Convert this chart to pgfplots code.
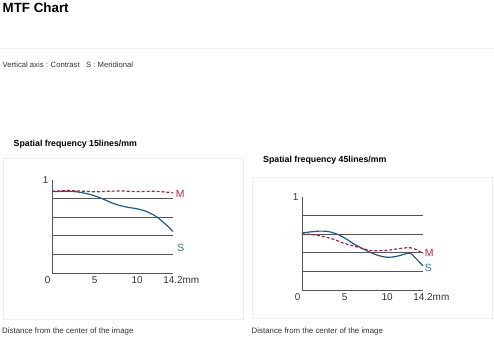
\documentclass[border=0pt]{standalone}
\usepackage{pgfplots}
\pgfplotsset{compat=1.18}
\usepackage{fontspec}
\setmainfont{Liberation Sans}
\definecolor{mred}{HTML}{B0203C}
\definecolor{sblue}{HTML}{1D5C8C}
\definecolor{mlab}{HTML}{C0233F}
\definecolor{slab}{HTML}{2A7FB5}
\definecolor{txt}{HTML}{333333}
\definecolor{grd}{HTML}{555555}
\definecolor{panel}{HTML}{EDEDED}
\pgfplotsset{mtf/.style={
  scale only axis, width=121bp, height=93bp,
  xmin=0, xmax=14.2, ymin=0, ymax=1,
  axis x line=bottom, axis y line=left,
  axis line style={-, draw=grd, line width=0.8pt},
  xtick={0,5,10,14.2}, xticklabels={\llap{0\,},5,10,14.2\rlap{mm}},
  ytick={1}, yticklabels={1},
  major tick length=0pt,
  tick label style={font=\fontsize{10}{12}\selectfont, text=txt},
  /pgf/number format/assume math mode=true,
  clip=false,
}}
\begin{document}
\begin{tikzpicture}[x=1bp,y=1bp]
\fill[white] (0,0) rectangle (494,-339);
\path[use as bounding box] (0,0) rectangle (494,-339);
\node[anchor=base west, inner sep=0, font=\fontsize{13.4}{15}\selectfont\bfseries] at (2.5,-12.5) {MTF Chart};
\draw[color=panel, line width=0.6pt] (0,-48) -- (494,-48);
\node[anchor=west, inner sep=0, font=\fontsize{7.7}{9}\selectfont, text=txt] at (2.5,-65) {Vertical axis : Contrast \ \ S : Meridional};
\node[anchor=west, inner sep=0, font=\fontsize{8.8}{10}\selectfont\bfseries] at (13.5,-144) {Spatial frequency 15lines/mm};
\node[anchor=west, inner sep=0, font=\fontsize{8.8}{10}\selectfont\bfseries] at (263,-160.5) {Spatial frequency 45lines/mm};
\draw[color=panel, line width=0.6pt] (3,-158) rectangle (243,-319);
\draw[color=panel, line width=0.6pt] (252,-177) rectangle (492,-318);
\node[anchor=west, inner sep=0, font=\fontsize{7.9}{9}\selectfont, text=txt] at (2,-331) {Distance from the center of the image};
\node[anchor=west, inner sep=0, font=\fontsize{7.9}{9}\selectfont, text=txt] at (251.5,-331.5) {Distance from the center of the image};

\begin{axis}[mtf, at={(52bp,-273bp)}, anchor=south west]
\foreach \g in {0.2,0.4,0.6,0.8}{\edef\tmp{\noexpand\draw[grd, line width=0.75pt] (axis cs:0,\g) -- (axis cs:14.2,\g);}\tmp}
\addplot[sblue, line width=1.2pt, smooth, tension=0.5] coordinates {
(0,0.875) (1,0.878) (2,0.878) (3,0.872) (4,0.855) (5,0.83) (6,0.795) (7,0.755) (8,0.725) (9,0.705) (10,0.69) (11,0.665) (12,0.62) (12.5,0.59) (13,0.55) (13.5,0.51) (14.2,0.445)};
\addplot[mred, line width=1.2pt, dash pattern=on 3pt off 2pt, smooth, tension=0.5] coordinates {
(0,0.88) (1,0.883) (2,0.887) (3,0.882) (4,0.878) (5,0.874) (6,0.876) (7,0.88) (8,0.882) (9,0.879) (10,0.876) (11,0.877) (12,0.879) (13,0.873) (14.2,0.863)};
\node[text=mlab, font=\fontsize{10.5}{12}\selectfont, anchor=west, inner sep=0] at (axis cs:14.5,0.855) {M};
\node[text=slab, font=\fontsize{10.5}{12}\selectfont, anchor=west, inner sep=0] at (axis cs:14.7,0.27) {S};
\end{axis}

\begin{axis}[mtf, at={(302bp,-290bp)}, anchor=south west]
\foreach \g in {0.2,0.4,0.6,0.8}{\edef\tmp{\noexpand\draw[grd, line width=0.75pt] (axis cs:0,\g) -- (axis cs:14.2,\g);}\tmp}
\addplot[sblue, line width=1.2pt, smooth, tension=0.5] coordinates {
(0,0.613) (1,0.625) (2,0.633) (3,0.63) (4,0.605) (5,0.56) (6,0.5) (7,0.45) (8,0.405) (9,0.37) (10,0.352) (11,0.36) (12,0.385) (12.7,0.396) (13.3,0.345) (14.2,0.26)};
\addplot[mred, line width=1.2pt, dash pattern=on 3pt off 2pt, smooth, tension=0.5] coordinates {
(0,0.605) (1,0.598) (2,0.585) (3,0.565) (4,0.535) (5,0.5) (6,0.475) (7,0.45) (8,0.425) (9,0.423) (10,0.427) (11,0.44) (12,0.452) (12.7,0.454) (13.4,0.435) (14.2,0.39)};
\node[text=mlab, font=\fontsize{10.5}{12}\selectfont, anchor=west, inner sep=0] at (axis cs:14.4,0.395) {M};
\node[text=slab, font=\fontsize{10.5}{12}\selectfont, anchor=west, inner sep=0] at (axis cs:14.4,0.235) {S};
\end{axis}
\end{tikzpicture}
\end{document}
